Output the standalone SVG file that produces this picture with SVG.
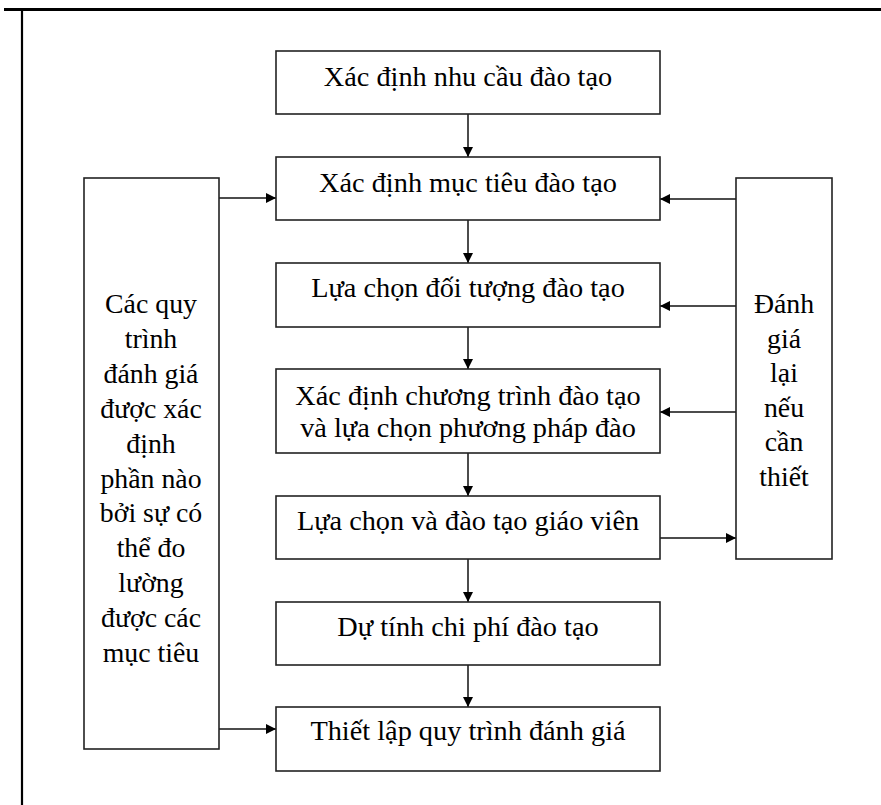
<svg xmlns="http://www.w3.org/2000/svg" width="881" height="805" viewBox="0 0 881 805">
<style>
.box{fill:#fff;stroke:#222;stroke-width:1.6}
.t{font-family:"Liberation Serif","Times New Roman",serif;font-size:28.3px;fill:#000;text-anchor:middle}
.s{font-size:27.8px}
.c{stroke:#111;stroke-width:1.5;fill:none}
.frame{stroke:#000;fill:none}
</style>
<defs>
<marker id="ah" viewBox="0 0 10 10" refX="10" refY="5" markerWidth="11" markerHeight="10" markerUnits="userSpaceOnUse" orient="auto">
<path d="M0,0 L10,5 L0,10 z" fill="#000"/>
</marker>
</defs>
<rect width="881" height="805" fill="#fff"/>
<g id="frame">
<line class="frame" x1="4" y1="9.5" x2="881" y2="9.5" stroke-width="3"/>
<line class="frame" x1="22" y1="9" x2="22" y2="805" stroke-width="2.2"/>
</g>
<g id="connectors">
<line class="c" x1="468" y1="114" x2="468" y2="157" marker-end="url(#ah)"/>
<line class="c" x1="468" y1="220" x2="468" y2="263" marker-end="url(#ah)"/>
<line class="c" x1="468" y1="327" x2="468" y2="369" marker-end="url(#ah)"/>
<line class="c" x1="468" y1="453" x2="468" y2="496" marker-end="url(#ah)"/>
<line class="c" x1="468" y1="559" x2="468" y2="602" marker-end="url(#ah)"/>
<line class="c" x1="468" y1="665" x2="468" y2="707" marker-end="url(#ah)"/>
<line class="c" x1="219" y1="198" x2="276" y2="198" marker-end="url(#ah)"/>
<line class="c" x1="219" y1="729" x2="276" y2="729" marker-end="url(#ah)"/>
<line class="c" x1="736" y1="199" x2="660" y2="199" marker-end="url(#ah)"/>
<line class="c" x1="736" y1="306" x2="660" y2="306" marker-end="url(#ah)"/>
<line class="c" x1="736" y1="412" x2="660" y2="412" marker-end="url(#ah)"/>
<line class="c" x1="660" y1="538" x2="736" y2="538" marker-end="url(#ah)"/>
</g>
<g id="n1"><rect class="box" x="276" y="51" width="384" height="63"/><text class="t" x="468" y="86">Xác định nhu cầu đào tạo</text></g>
<g id="n2"><rect class="box" x="276" y="157" width="384" height="63"/><text class="t" x="468" y="192">Xác định mục tiêu đào tạo</text></g>
<g id="n3"><rect class="box" x="276" y="263" width="384" height="64"/><text class="t" x="468" y="297">Lựa chọn đối tượng đào tạo</text></g>
<g id="n4"><rect class="box" x="276" y="369" width="384" height="84"/><text class="t" x="468" y="405">Xác định chương trình đào tạo</text><text class="t" x="468" y="437">và lựa chọn phương pháp đào</text></g>
<g id="n5"><rect class="box" x="276" y="496" width="384" height="63"/><text class="t" x="468" y="530">Lựa chọn và đào tạo giáo viên</text></g>
<g id="n6"><rect class="box" x="276" y="602" width="384" height="63"/><text class="t" x="468" y="636">Dự tính chi phí đào tạo</text></g>
<g id="n7"><rect class="box" x="276" y="707" width="384" height="64"/><text class="t" x="468" y="740">Thiết lập quy trình đánh giá</text></g>
<g id="left"><rect class="box" x="84" y="178" width="135" height="571"/>
<text class="t s" x="151" y="313">Các quy</text>
<text class="t s" x="151" y="348">trình</text>
<text class="t s" x="151" y="383">đánh giá</text>
<text class="t s" x="151" y="418">được xác</text>
<text class="t s" x="151" y="453">định</text>
<text class="t s" x="151" y="488">phần nào</text>
<text class="t s" x="151" y="522">bởi sự có</text>
<text class="t s" x="151" y="557">thể đo</text>
<text class="t s" x="151" y="592">lường</text>
<text class="t s" x="151" y="627">được các</text>
<text class="t s" x="151" y="662">mục tiêu</text>
</g>
<g id="right"><rect class="box" x="736" y="178" width="96" height="381"/>
<text class="t s" x="784" y="313">Đánh</text>
<text class="t s" x="784" y="347.5">giá</text>
<text class="t s" x="784" y="382">lại</text>
<text class="t s" x="784" y="416.5">nếu</text>
<text class="t s" x="784" y="451">cần</text>
<text class="t s" x="784" y="485.5">thiết</text>
</g>
</svg>
